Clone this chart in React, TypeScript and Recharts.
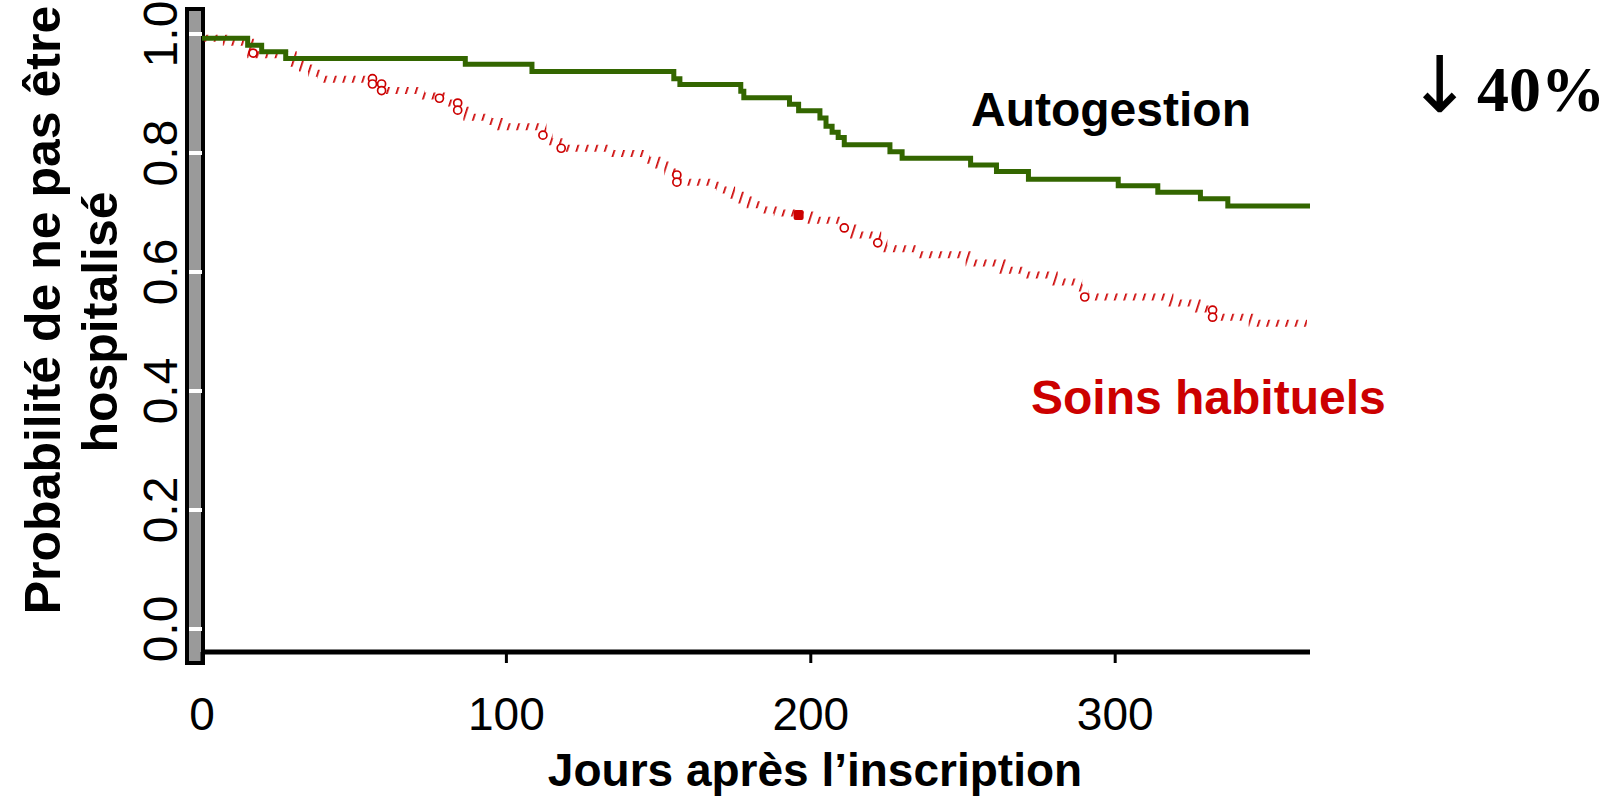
import { ComposedChart, Line, Scatter, XAxis, YAxis } from 'recharts';

// Autogestion (green) – Kaplan-Meier steps
const greenDays = [0, 15, 19.6, 27.5, 86.5, 108.4, 155, 157, 177, 178, 193, 196, 203, 205, 207, 209, 211, 226, 230, 252.5, 261, 271.5, 301, 314, 328, 337, 364.8];
const greenSurv = [0.993, 0.981, 0.970, 0.959, 0.949, 0.937, 0.925, 0.915, 0.904, 0.893, 0.882, 0.871, 0.859, 0.845, 0.835, 0.826, 0.814, 0.802, 0.791, 0.780, 0.769, 0.756, 0.745, 0.734, 0.723, 0.711, 0.711];

// Soins habituels (red)
const redDays = [0, 8, 16, 30, 33, 36, 39, 56, 59, 72, 80, 84, 87, 94, 98, 112, 114, 118, 134, 146, 150, 153, 156, 168, 170, 174, 177, 180, 184, 189, 196, 200, 210, 214, 222, 224, 235, 252, 263, 270, 280, 288, 290, 318, 327, 332, 345, 363];
const redSurv = [0.993, 0.986, 0.965, 0.951, 0.943, 0.934, 0.924, 0.916, 0.905, 0.896, 0.884, 0.872, 0.86, 0.853, 0.844, 0.830, 0.819, 0.808, 0.799, 0.788, 0.78, 0.768, 0.751, 0.746, 0.738, 0.729, 0.721, 0.713, 0.704, 0.699, 0.696, 0.687, 0.674, 0.662, 0.649, 0.639, 0.629, 0.615, 0.603, 0.595, 0.583, 0.573, 0.558, 0.548, 0.538, 0.524, 0.514, 0.514];

// censored observations on the red curve
const redCensorDays = [16.8, 56, 56, 59, 59, 78, 84, 84, 112, 118, 156, 156, 211, 222, 290, 332, 332];
const redCensorSurv = [0.968, 0.925, 0.916, 0.916, 0.905, 0.892, 0.884, 0.872, 0.830, 0.808, 0.763, 0.751, 0.674, 0.649, 0.558, 0.536, 0.524];
const redFilledDays = [196];
const redFilledSurv = [0.696];

const xTicks = [0, 100, 200, 300];
const yTicks = [0, 0.2, 0.4, 0.6, 0.8, 1.0];

const GREEN = '#336600';
const RED = '#cc0000';
const SANS = '"Liberation Sans", Arial, Helvetica, sans-serif';
const SERIF = '"Liberation Serif", "Times New Roman", serif';

const greenData = greenDays.map((t, i) => ({ t, s: greenSurv[i] }));
const redData = redDays.map((t, i) => ({ t, s: redSurv[i] }));
const censorData = redCensorDays.map((t, i) => ({ t, s: redCensorSurv[i] }));
const filledData = redFilledDays.map((t, i) => ({ t, s: redFilledSurv[i] }));

const YTick = ({ x, y, payload }: any) => {
  const bx = x - 10;
  return (
    <text x={bx} y={y} transform={`rotate(-90 ${bx} ${y})`} textAnchor="middle" fontSize={48} fontFamily={SANS} fill="#000">
      {Number(payload.value).toFixed(1)}
    </text>
  );
};

const XTick = ({ x, y, payload }: any) => (
  <text x={x} y={y + 65} textAnchor="middle" fontSize={46} fontFamily={SANS} fill="#000">
    {payload.value}
  </text>
);

const CensorMark = ({ cx, cy }: any) => (
  <circle cx={cx} cy={cy} r={4} fill="#fff" stroke={RED} strokeWidth={1.7} />
);

const FilledMark = ({ cx, cy }: any) => (
  <rect x={cx - 5} y={cy - 5} width={10} height={10} rx={2} fill={RED} />
);

export default function App() {
  return (
    <div style={{ position: 'absolute', left: 0, top: 0, width: 1616, height: 796, background: '#fff' }}>
      {/* grey y-axis bar */}
      <div
        style={{
          position: 'absolute',
          left: 185,
          top: 7,
          width: 20,
          height: 658,
          boxSizing: 'border-box',
          border: '4px solid #000',
          background: '#9a9a9a',
        }}
      />
      <div style={{ position: 'absolute', left: 0, top: 0 }}>
        <ComposedChart width={1616} height={796} margin={{ top: 7, right: 306, left: 142, bottom: 84 }}>
          <defs>
            <pattern id="hatch" patternUnits="userSpaceOnUse" width={9} height={8} patternTransform="rotate(18)">
              <rect x={0} y={0} width={1.7} height={8} fill={RED} />
            </pattern>
          </defs>
          <XAxis
            type="number"
            dataKey="t"
            domain={[0, 364]}
            ticks={xTicks}
            allowDataOverflow
            height={60}
            axisLine={{ stroke: '#000', strokeWidth: 5 }}
            tickLine={{ stroke: '#000', strokeWidth: 3 }}
            tickSize={11}
            tick={<XTick />}
          />
          <YAxis
            type="number"
            domain={[-0.0387, 1.0454]}
            ticks={yTicks}
            allowDataOverflow
            width={60}
            axisLine={false}
            tickLine={{ stroke: '#fff', strokeWidth: 4 }}
            tickSize={13}
            tick={<YTick />}
          />
          <Line
            data={redData}
            dataKey="s"
            type="stepAfter"
            stroke="url(#hatch)"
            strokeWidth={7}
            strokeLinecap="butt"
            dot={false}
            activeDot={false}
            isAnimationActive={false}
          />
          <Line
            data={greenData}
            dataKey="s"
            type="stepAfter"
            stroke={GREEN}
            strokeWidth={5}
            dot={false}
            activeDot={false}
            isAnimationActive={false}
          />
          <Scatter data={censorData} dataKey="s" shape={<CensorMark />} isAnimationActive={false} />
          <Scatter data={filledData} dataKey="s" shape={<FilledMark />} isAnimationActive={false} />
        </ComposedChart>
      </div>
      <svg
        width={1616}
        height={796}
        style={{ position: 'absolute', left: 0, top: 0, pointerEvents: 'none' }}
      >
        <g fontFamily={SANS} fontWeight="bold" fontSize={50} textAnchor="middle">
          <text x={60} y={310} transform="rotate(-90 60 310)">Probabilité de ne pas être</text>
          <text x={117} y={322} transform="rotate(-90 117 322)">hospitalisé</text>
        </g>
        <text x={815} y={786} textAnchor="middle" fontFamily={SANS} fontWeight="bold" fontSize={46}>
          Jours après l’inscription
        </text>
        <text x={971} y={126} fontFamily={SANS} fontWeight="bold" fontSize={48} fill="#000">
          Autogestion
        </text>
        <text x={1031} y={414} fontFamily={SANS} fontWeight="bold" fontSize={48} fill={RED}>
          Soins habituels
        </text>
        <text x={1407} y={112} fontFamily='"DejaVu Sans", sans-serif' fontSize={78} fill="#000">
          ↓
        </text>
        <text x={1477} y={111} fontFamily={SERIF} fontWeight="bold" fontSize={64} fill="#000">
          40%
        </text>
      </svg>
    </div>
  );
}
